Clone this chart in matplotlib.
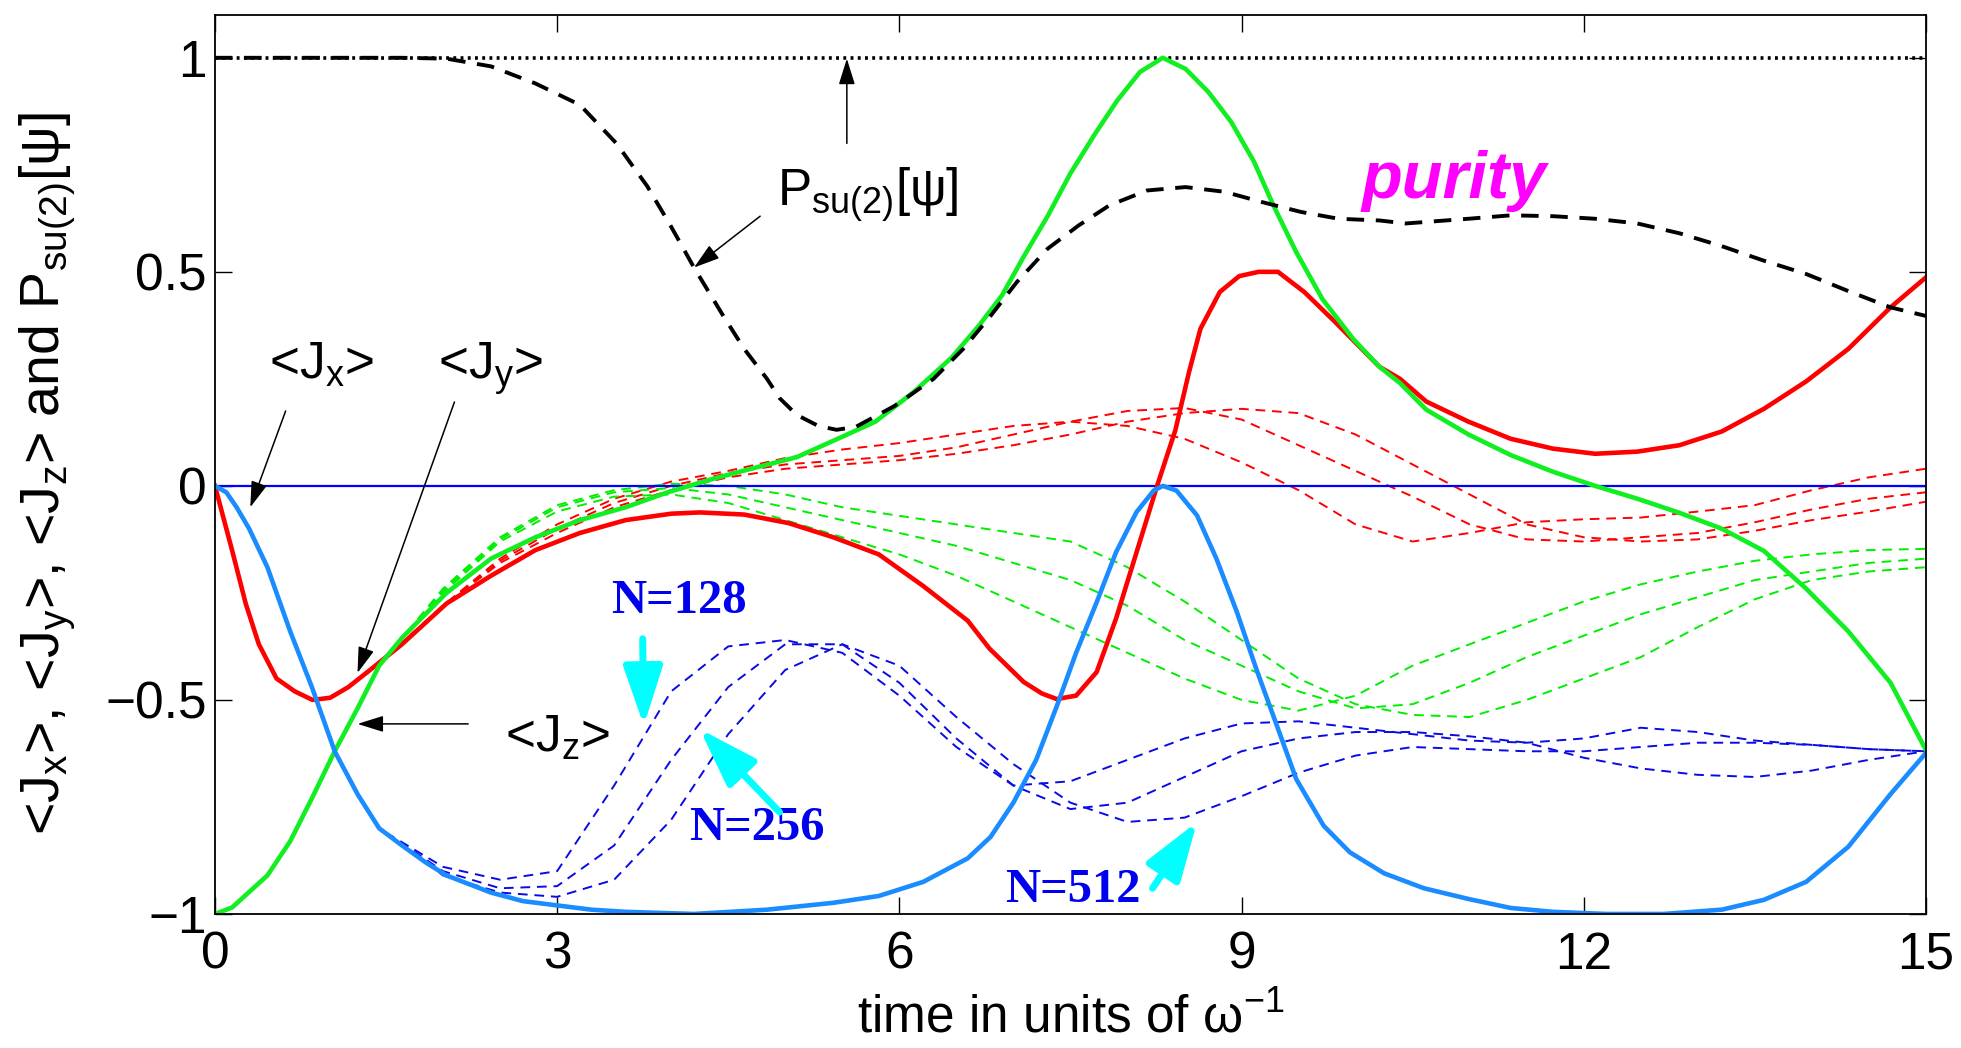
import matplotlib.pyplot as plt

plt.rcParams['font.family'] = ['Liberation Sans', 'DejaVu Sans']
plt.rcParams['mathtext.fontset'] = 'custom'
plt.rcParams['mathtext.rm'] = 'Liberation Sans'
plt.rcParams['mathtext.it'] = 'Liberation Sans:italic'
plt.rcParams['mathtext.bf'] = 'Liberation Sans:bold'

# ---- mean-field curves (thick solid lines) ----
t_jx = [0, 0.1, 0.19, 0.3, 0.46, 0.66, 0.85, 1.05, 1.25, 1.44, 1.64, 1.85, 2.03, 2.42,
        2.7, 3.0, 3.3, 3.6, 4.2, 4.84, 5.42, 5.82, 6.21, 6.6, 6.8, 7.0, 7.2, 7.38, 7.55,
        7.73, 7.9, 8.08, 8.23, 8.31, 8.43, 8.61, 8.78, 8.96, 9.13, 9.31, 9.48, 9.72,
        9.95, 10.25, 10.6, 10.99, 11.36, 11.73, 12.2, 12.7, 13.21, 13.58, 13.95, 14.32,
        14.69, 15.0]
jx = [0, -0.015, -0.05, -0.1, -0.19, -0.34, -0.47, -0.62, -0.72, -0.80, -0.84, -0.88,
      -0.91, -0.95, -0.97, -0.98, -0.99, -0.995, -1.0, -0.99, -0.974, -0.958, -0.925,
      -0.87, -0.82, -0.74, -0.64, -0.515, -0.39, -0.272, -0.155, -0.061, -0.011, 0.0,
      -0.011, -0.069, -0.17, -0.295, -0.428, -0.56, -0.685, -0.794, -0.856, -0.905,
      -0.94, -0.965, -0.986, -0.995, -1.0, -1.0, -0.99, -0.967, -0.925, -0.843, -0.72,
      -0.624]

t_jy = [0, 0.15, 0.27, 0.385, 0.54, 0.70, 0.855, 1.01, 1.17, 1.36, 1.64, 2.03, 2.42,
        2.81, 3.2, 3.6, 4.0, 4.25, 4.64, 5.03, 5.42, 5.82, 6.21, 6.6, 6.79, 7.09, 7.25,
        7.38, 7.55, 7.73, 7.9, 8.08, 8.26, 8.42, 8.54, 8.64, 8.81, 8.98, 9.15, 9.32,
        9.55, 9.82, 10.21, 10.39, 10.62, 10.99, 11.36, 11.73, 12.1, 12.47, 12.84, 13.21,
        13.58, 13.95, 14.32, 14.69, 15.0]
jy = [0, -0.15, -0.275, -0.37, -0.45, -0.48, -0.50, -0.495, -0.47, -0.43, -0.37,
      -0.275, -0.21, -0.15, -0.11, -0.08, -0.065, -0.062, -0.067, -0.087, -0.12, -0.16,
      -0.234, -0.315, -0.38, -0.458, -0.485, -0.498, -0.49, -0.435, -0.31, -0.155, 0.0,
      0.13, 0.266, 0.367, 0.453, 0.49, 0.50, 0.50, 0.453, 0.383, 0.278, 0.25, 0.197,
      0.15, 0.11, 0.087, 0.075, 0.08, 0.095, 0.127, 0.18, 0.244, 0.32, 0.417, 0.487]

t_jz = [0, 0.15, 0.46, 0.66, 0.85, 1.05, 1.25, 1.44, 1.64, 2.03, 2.42, 2.81, 3.2, 3.6,
        3.97, 4.36, 4.7, 5.1, 5.46, 5.79, 6.13, 6.46, 6.7, 6.9, 7.1, 7.3, 7.5, 7.71,
        7.91, 8.11, 8.31, 8.51, 8.71, 8.91, 9.11, 9.28, 9.48, 9.71, 9.98, 10.21, 10.39,
        10.62, 10.99, 11.36, 11.73, 12.1, 12.47, 12.84, 13.21, 13.58, 13.95, 14.32,
        14.69, 15.0]
jz = [-1.0, -0.985, -0.91, -0.83, -0.73, -0.62, -0.52, -0.42, -0.355, -0.25, -0.17,
      -0.12, -0.08, -0.05, -0.015, 0.016, 0.04, 0.067, 0.11, 0.15, 0.22, 0.30, 0.375,
      0.445, 0.54, 0.63, 0.73, 0.82, 0.90, 0.967, 1.0, 0.974, 0.92, 0.85, 0.757, 0.655,
      0.546, 0.436, 0.343, 0.278, 0.24, 0.178, 0.12, 0.072, 0.033, 0.0, -0.03, -0.063,
      -0.10, -0.152, -0.24, -0.34, -0.46, -0.617]

# purity (thick black dashed)
t_pur = [0, 1.0, 1.64, 2.03, 2.42, 2.81, 3.2, 3.52, 3.79, 3.99, 4.2, 4.45, 4.64, 4.84,
         4.95, 5.1, 5.29, 5.45, 5.62, 5.96, 6.3, 6.56, 6.8, 7.03, 7.3, 7.57, 7.84, 8.17,
         8.51, 8.85, 9.18, 9.52, 9.85, 10.21, 10.44, 10.99, 11.36, 11.73, 12.1, 12.47,
         12.84, 13.21, 13.58, 13.95, 14.32, 14.69, 15.0]
purity = [1.0, 1.0, 1.0, 0.998, 0.98, 0.94, 0.89, 0.80, 0.70, 0.61, 0.51, 0.40, 0.32,
          0.25, 0.205, 0.166, 0.14, 0.131, 0.138, 0.187, 0.25, 0.32, 0.397, 0.476, 0.554,
          0.608, 0.655, 0.69, 0.698, 0.687, 0.663, 0.64, 0.624, 0.62, 0.613, 0.624, 0.632,
          0.63, 0.624, 0.613, 0.59, 0.56, 0.526, 0.495, 0.455, 0.417, 0.397]

# P_su(2)[psi] of the coherent state stays at 1
t_psu = [0, 15]
psu = [1, 1]

# ---- finite-N curves (thin dashed), N = 128, 256, 512 ----
# before t = 1.5 they lie on top of the solid curves
t_n = [1.5, 2, 2.5, 3, 3.5, 4, 4.5, 5, 5.5, 6, 6.5, 7, 7.5, 8, 8.5, 9, 9.5, 10,
       10.5, 11, 11.5, 12, 12.5, 13, 13.5, 14, 14.5, 15]

jx_128 = [-0.81, -0.89, -0.92, -0.90, -0.70, -0.48, -0.375, -0.36, -0.39, -0.49, -0.61,
          -0.70, -0.69, -0.64, -0.59, -0.555, -0.55, -0.565, -0.58, -0.595, -0.60, -0.59,
          -0.565, -0.575, -0.595, -0.605, -0.615, -0.62]
jx_256 = [-0.81, -0.90, -0.94, -0.935, -0.84, -0.64, -0.47, -0.37, -0.37, -0.46, -0.59,
          -0.70, -0.755, -0.74, -0.68, -0.62, -0.59, -0.575, -0.575, -0.585, -0.60, -0.635,
          -0.66, -0.675, -0.68, -0.665, -0.64, -0.62]
jx_512 = [-0.81, -0.91, -0.95, -0.96, -0.92, -0.78, -0.58, -0.43, -0.37, -0.42, -0.54,
          -0.65, -0.74, -0.785, -0.775, -0.725, -0.67, -0.63, -0.61, -0.615, -0.62, -0.62,
          -0.61, -0.60, -0.60, -0.605, -0.615, -0.62]

jy_128 = [-0.40, -0.28, -0.17, -0.09, -0.03, 0.01, 0.035, 0.065, 0.085, 0.10, 0.12, 0.14,
          0.15, 0.14, 0.11, 0.055, -0.01, -0.09, -0.13, -0.11, -0.085, -0.078, -0.074,
          -0.06, -0.045, -0.01, 0.02, 0.04]
jy_256 = [-0.40, -0.28, -0.175, -0.10, -0.04, 0.0, 0.03, 0.05, 0.06, 0.07, 0.09, 0.12,
          0.15, 0.175, 0.182, 0.155, 0.095, 0.035, -0.025, -0.09, -0.125, -0.13, -0.12,
          -0.11, -0.085, -0.055, -0.03, -0.015]
jy_512 = [-0.40, -0.28, -0.18, -0.11, -0.05, -0.01, 0.02, 0.04, 0.05, 0.06, 0.075, 0.095,
          0.12, 0.15, 0.17, 0.18, 0.17, 0.12, 0.05, -0.02, -0.09, -0.12, -0.13, -0.125,
          -0.105, -0.08, -0.06, -0.037]

jz_128 = [-0.40, -0.25, -0.13, -0.06, -0.025, -0.02, -0.04, -0.08, -0.12, -0.16, -0.21,
          -0.27, -0.33, -0.39, -0.45, -0.50, -0.525, -0.49, -0.42, -0.37, -0.32, -0.27,
          -0.23, -0.20, -0.175, -0.16, -0.15, -0.147]
jz_256 = [-0.40, -0.245, -0.125, -0.05, -0.015, -0.005, -0.02, -0.05, -0.08, -0.11, -0.14,
          -0.18, -0.22, -0.28, -0.36, -0.42, -0.48, -0.52, -0.51, -0.46, -0.40, -0.35,
          -0.30, -0.26, -0.22, -0.20, -0.18, -0.17]
jz_512 = [-0.40, -0.24, -0.12, -0.045, -0.01, 0.005, 0.0, -0.02, -0.05, -0.07, -0.09,
          -0.11, -0.13, -0.19, -0.27, -0.36, -0.45, -0.51, -0.535, -0.54, -0.50, -0.45,
          -0.40, -0.33, -0.265, -0.22, -0.20, -0.19]

x_ticks = [0, 3, 6, 9, 12, 15]
x_ticklabels = ['0', '3', '6', '9', '12', '15']
y_ticks = [-1, -0.5, 0, 0.5, 1]
y_ticklabels = ['\u22121', '\u22120.5', '0', '0.5', '1']

fig = plt.figure(figsize=(19.61, 10.48), dpi=100)
ax = fig.add_axes([0.1096, 0.1279, 0.8725, 0.8578])

dash_thin = (0, (5, 3.5))
for y in [jy_128, jy_256, jy_512]:
    ax.plot(t_n, y, color='#ff0000', lw=1.4, ls=dash_thin)
for y in [jz_128, jz_256, jz_512]:
    ax.plot(t_n, y, color='#00ee00', lw=1.4, ls=dash_thin)
for y in [jx_128, jx_256, jx_512]:
    ax.plot(t_n, y, color='#0a0ae6', lw=1.4, ls=dash_thin)

ax.axhline(0, color='#0000ff', lw=1.6)

ax.plot(t_psu, psu, color='black', lw=2.6, ls=(0, (0.8, 1.2)))
ax.plot(t_jy, jy, color='#ff0000', lw=3.3)
ax.plot(t_jz, jz, color='#11ee22', lw=3.3)
ax.plot(t_jx, jx, color='#1a8cff', lw=3.3)
ax.plot(t_pur, purity, color='black', lw=2.8, ls=(0, (4.5, 3)))

ax.set_xlim(0, 15)
ax.set_ylim(-1, 1.1)
ax.set_xticks(x_ticks, x_ticklabels)
ax.set_yticks(y_ticks, y_ticklabels)
ax.tick_params(direction='in', top=True, right=True, length=12, width=1.0,
               labelsize=37)
ax.tick_params(axis='x', pad=12)
ax.tick_params(axis='y', pad=6)
for s in ax.spines.values():
    s.set_linewidth(1.3)

ax.set_xlabel(r'time in units of ω$^{-1}$', fontsize=37)
ax.xaxis.set_label_coords(0.5, -0.088)
ax.set_ylabel(r'<J$_\mathrm{x}$>, <J$_\mathrm{y}$>, <J$_\mathrm{z}$> and '
              r'P$_\mathrm{su(2)}$[ψ]', fontsize=40)
ax.yaxis.set_label_coords(-0.08, 0.49)

# black pointer labels
black_arrow = dict(arrowstyle='-|>,head_length=0.8,head_width=0.25', color='black',
                   lw=1.1, mutation_scale=20, shrinkA=0, shrinkB=0)
ax.text(0.93, 0.283, r'<J$_\mathrm{x}$>', fontsize=37, ha='center', va='center')
ax.annotate('', xy=(0.31, -0.05), xytext=(0.62, 0.175), arrowprops=black_arrow)
ax.text(2.42, 0.275, r'<J$_\mathrm{y}$>', fontsize=37, ha='center', va='center')
ax.annotate('', xy=(1.25, -0.437), xytext=(2.1, 0.196), arrowprops=black_arrow)
ax.text(3.0, -0.59, r'<J$_\mathrm{z}$>', fontsize=37, ha='center', va='center')
ax.annotate('', xy=(1.25, -0.556), xytext=(2.22, -0.556), arrowprops=black_arrow)
ax.text(5.72, 0.68, r'P$_\mathrm{su(2)}$[ψ]', fontsize=37, ha='center', va='center')
ax.annotate('', xy=(4.2, 0.51), xytext=(4.78, 0.63), arrowprops=black_arrow)
ax.annotate('', xy=(5.54, 0.998), xytext=(5.54, 0.80), arrowprops=black_arrow)

ax.text(10.86, 0.713, 'purity', fontsize=48, color='#ff00ff', fontweight='bold',
        fontstyle='italic', ha='center', va='center')

# system size labels with cyan arrows
cyan_arrow = dict(arrowstyle='-|>,head_length=1.2,head_width=0.4', color='#00ffff',
                  lw=5, mutation_scale=30, shrinkA=0, shrinkB=0)
n_font = dict(family=['Liberation Serif', 'DejaVu Serif'], fontsize=35,
              fontweight='bold', color='#0000ee', ha='center', va='center')
ax.text(4.07, -0.27, 'N=128', **n_font)
ax.annotate('', xy=(3.76, -0.56), xytext=(3.75, -0.357), arrowprops=cyan_arrow)
ax.text(4.75, -0.80, 'N=256', **n_font)
ax.annotate('', xy=(4.25, -0.568), xytext=(4.95, -0.762), arrowprops=cyan_arrow)
ax.text(7.52, -0.945, 'N=512', **n_font)
ax.annotate('', xy=(8.61, -0.785), xytext=(8.22, -0.94), arrowprops=cyan_arrow)

fig.savefig('out.png', dpi=100)
